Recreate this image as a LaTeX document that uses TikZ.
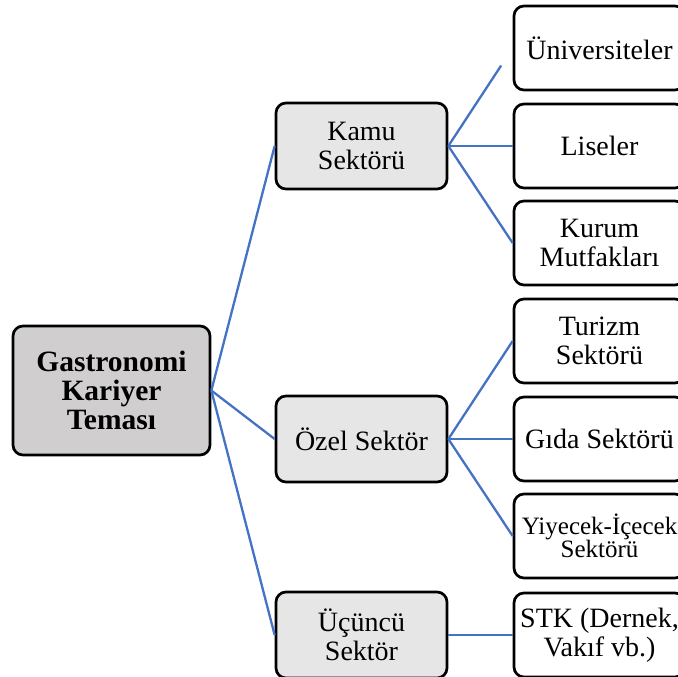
\documentclass[tikz,border=0pt]{standalone}
\usepackage{fontspec}
\setmainfont{Liberation Serif}
\definecolor{rootfill}{HTML}{D0CECE}
\definecolor{midfill}{HTML}{E7E6E6}
\definecolor{linkblue}{HTML}{4472C4}
\begin{document}
\begin{tikzpicture}[x=1pt,y=-1pt,
  box/.style={draw=black,line width=2.7pt,rounded corners=10pt,align=center,inner sep=0pt,
    font=\fontsize{28}{29}\selectfont},
  rootbox/.style={box,fill=rootfill,minimum width=197pt,minimum height=129pt,
    font=\fontsize{29.5}{29}\selectfont\bfseries},
  midbox/.style={box,fill=midfill,minimum width=171pt,minimum height=86pt},
  leafbox/.style={box,fill=white,minimum width=171pt,minimum height=84pt},
  link/.style={draw=linkblue,line width=2.3pt}]
\clip (0,0) rectangle (678,677);
\node[rootbox] (root) at (111.5,390.5) {Gastronomi\\Kariyer\\Teması};
\node[midbox] (kamu) at (361.5,146) {Kamu\\Sektörü};
\node[midbox] (ozel) at (361.5,439) {Özel Sektör};
\node[midbox] (ucuncu) at (361.5,635) {Üçüncü\\Sektör};
\node[leafbox] (uni) at (599.5,48) {Üniversiteler};
\node[leafbox] (lise) at (599.5,146) {Liseler};
\node[leafbox] (kurum) at (599.5,243) {Kurum\\Mutfakları};
\node[leafbox] (turizm) at (599.5,341) {Turizm\\Sektörü};
\node[leafbox] (gida) at (599.5,439) {Gıda Sektörü};
\node[leafbox,font=\fontsize{25}{23}\selectfont] (yiyecek) at (599.5,536) {Yiyecek-İçecek\\Sektörü};
\node[leafbox] (stk) at (599.5,635) {STK (Dernek,\\Vakıf vb.)};
\draw[link] (root.east) -- (kamu.west);
\draw[link] (root.east) -- (ozel.west);
\draw[link] (root.east) -- (ucuncu.west);
\draw[link,shorten >=21pt] (kamu.east) -- (uni.west);
\draw[link] (kamu.east) -- (lise.west);
\draw[link] (kamu.east) -- (kurum.west);
\draw[link] (ozel.east) -- (turizm.west);
\draw[link] (ozel.east) -- (gida.west);
\draw[link] (ozel.east) -- (yiyecek.west);
\draw[link] (ucuncu.east) -- (stk.west);
\end{tikzpicture}
\end{document}
